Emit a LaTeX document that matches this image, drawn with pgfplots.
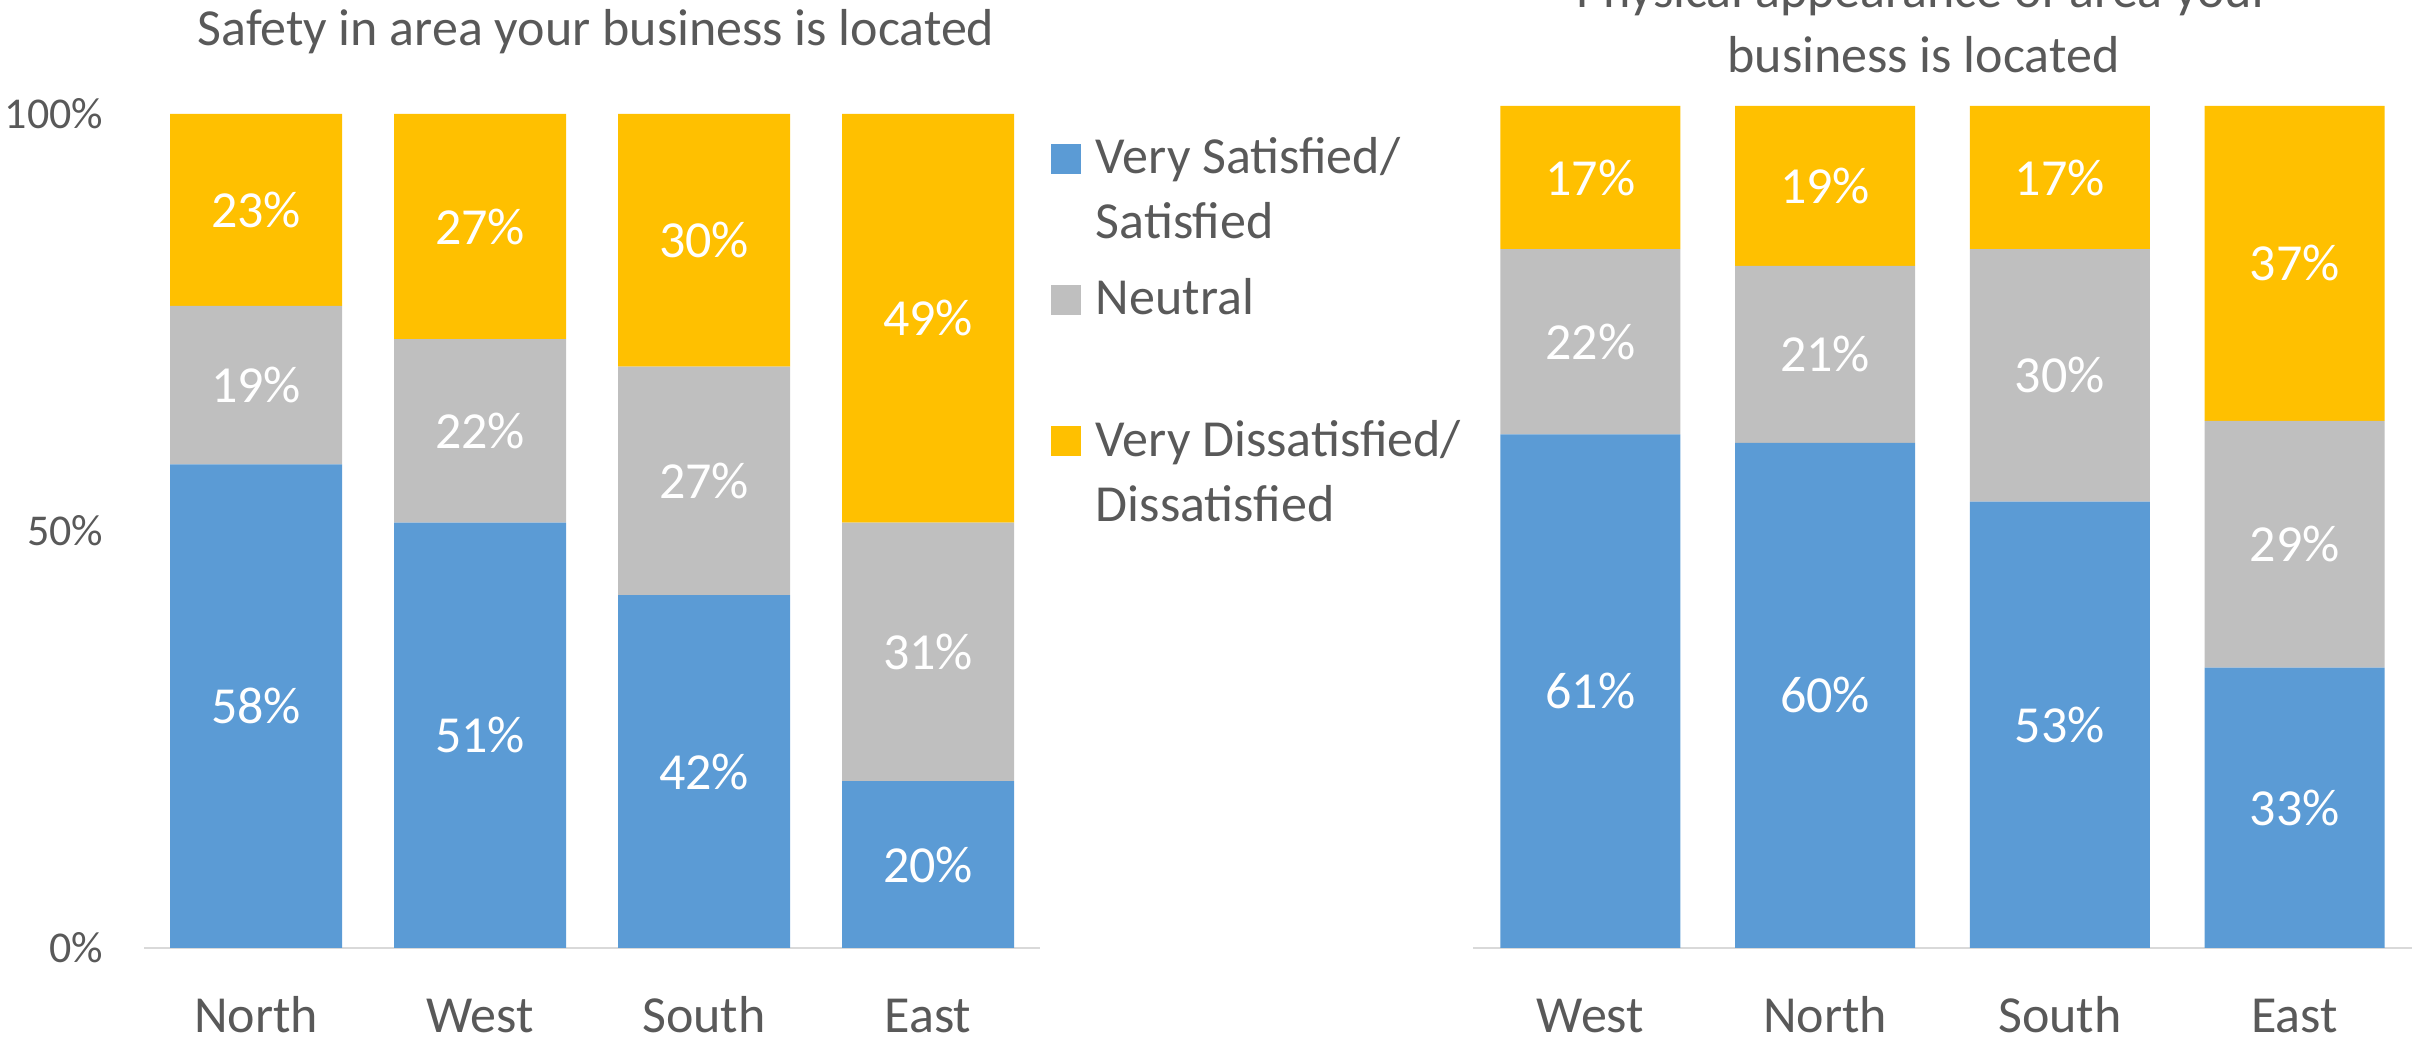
\documentclass[border=0pt]{standalone}
\usepackage{pgfplots}
\usepackage{pgfplotstable}
\usepackage{fontspec}
\setmainfont{Carlito}
\pgfplotsset{compat=1.18}
\definecolor{cBlue}{HTML}{5B9BD5}
\definecolor{cGray}{HTML}{BFBFBF}
\definecolor{cYel}{HTML}{FFC000}
\definecolor{cText}{HTML}{595959}
\definecolor{cAxis}{HTML}{D9D9D9}
\newcommand\fsL{\fontsize{13}{16.25}\selectfont}
\newcommand\fsS{\fontsize{11}{13.5}\selectfont}
\newcommand\twolines[2]{\begin{tabular}[t]{@{}l@{}}#1\\#2\end{tabular}}

\pgfplotstableread{
x cat sat neu dis
0 North 58 19 23
1 West 51 22 27
2 South 42.3 27.4 30.3
3 East 20 31 49
}\safety
\pgfplotstableread{
x cat sat neu dis
0 West 61 22 17
1 North 60 21 19
2 South 53 30 17
3 East 33.3 29.3 37.4
}\appearance

\pgfplotsset{
  survey/.style={
    scale only axis, ybar stacked, enlargelimits=false,
    xmin=-0.5, xmax=3.5, ymin=0, ymax=100,
    xtick={0,1,2,3},
    axis lines*=left,
    y axis line style={draw=none},
    x axis line style={draw=cAxis, line width=0.6pt},
    major tick length=0pt, tick style={draw=none},
    xticklabel style={font=\fsL, text=cText, anchor=base, inner sep=0pt, yshift=-21.25pt},
    /pgf/number format/assume math mode=true,
    point meta=explicit,
    nodes near coords={\pgfmathprintnumber[fixed,precision=0]{\pgfplotspointmeta}\%},
    every node near coord/.append style={font=\fsL, text=white, anchor=center},
    every axis title/.style={at={(0.5,1)}, anchor=base, inner sep=0pt, font=\fsL, text=cText, align=center},
  },
  area square/.style={legend image code/.code={\fill[##1] (0pt,0pt) rectangle (7.5pt,7.5pt);}},
}

\begin{document}
\begin{tikzpicture}
\path[use as bounding box] (0,0) rectangle (605pt,259.75pt);
\begin{axis}[survey,
  at={(36pt,22.75pt)}, anchor=south west,
  width=224pt, height=208.5pt, bar width=43pt,
  xticklabels={North,West,South,East},
  ytick={0,50,100},
  yticklabel={\pgfmathprintnumber{\tick}\%},
  yticklabel style={font=\fsS, text=cText, anchor=east, inner sep=0pt, xshift=-10pt},
  title={Safety in area your business is located},
  title style={yshift=17pt, xshift=1pt},
  legend style={at={(1.0112,0.9838)}, anchor=north west, draw=none, fill=none,
    inner sep=0pt, row sep=22.4pt, column sep=3.75pt, font=\fsL, text=cText,
    cells={anchor=base west}, nodes={inner sep=0pt}},
]
\addplot[fill=cBlue, draw=none, area square] table[x=x, y=sat, meta=sat] {\safety};
\addlegendentry{\twolines{Very Satisfied/}{Satisfied}}
\addplot[fill=cGray, draw=none, area square] table[x=x, y=neu, meta=neu] {\safety};
\addlegendentry{\twolines{Neutral}{}}
\addplot[fill=cYel, draw=none, area square] table[x=x, y=dis, meta=dis] {\safety};
\addlegendentry{\twolines{Very Dissatisfied/}{Dissatisfied}}
\end{axis}
\begin{axis}[survey,
  at={(368.25pt,22.75pt)}, anchor=south west,
  width=234.75pt, height=210.5pt, bar width=45pt,
  xticklabels={West,North,South,East},
  ytick=\empty,
  title={Physical appearance of area your\\business is located},
  title style={yshift=8.25pt, xshift=-4.75pt},
]
\addplot[fill=cBlue, draw=none] table[x=x, y=sat, meta=sat] {\appearance};
\addplot[fill=cGray, draw=none] table[x=x, y=neu, meta=neu] {\appearance};
\addplot[fill=cYel, draw=none] table[x=x, y=dis, meta=dis] {\appearance};
\end{axis}
\end{tikzpicture}
\end{document}
